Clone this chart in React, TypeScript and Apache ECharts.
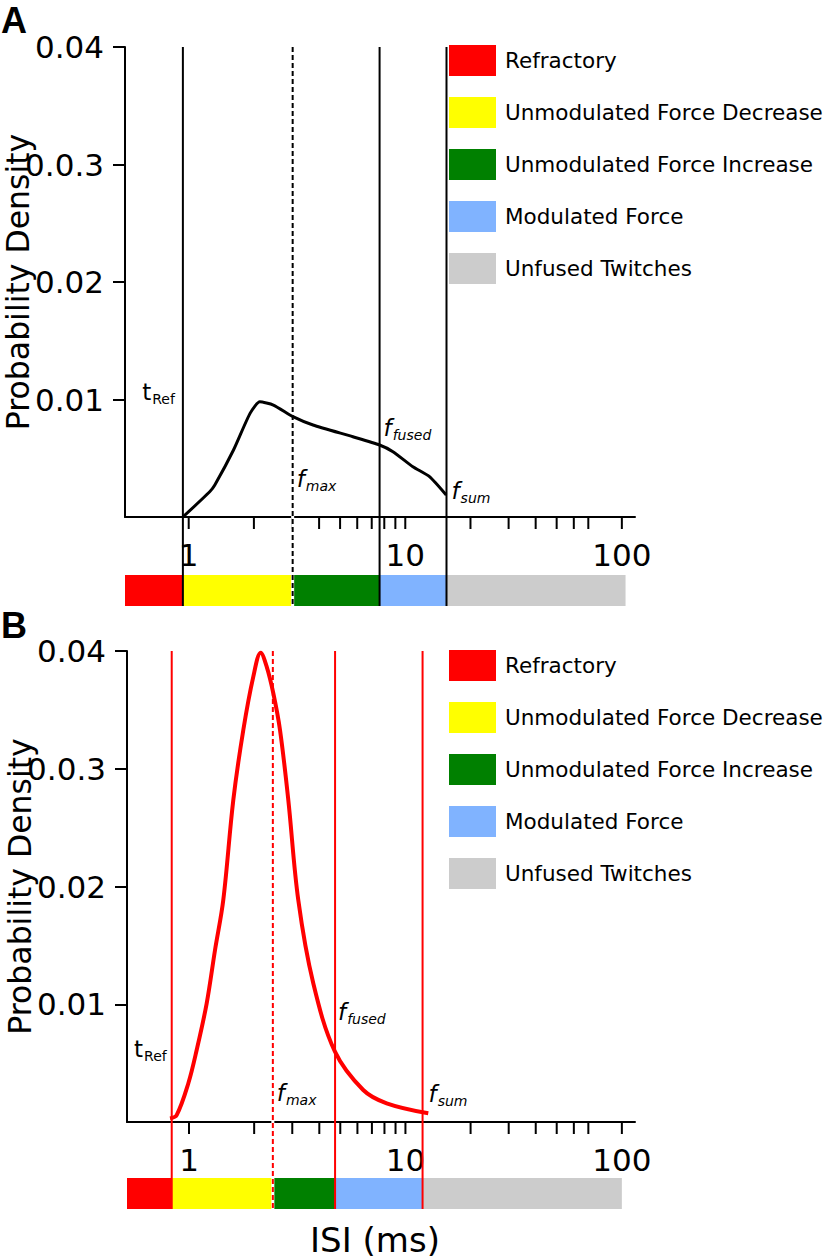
import React, { useEffect, useRef } from 'react';
import * as echarts from 'echarts';

// ---------- data ----------
const CATEGORIES = ['Refractory', 'Unmodulated Force Decrease', 'Unmodulated Force Increase', 'Modulated Force', 'Unfused Twitches'];
const CATEGORY_COLORS = ['#ff0000', '#ffff00', '#008000', '#80b3ff', '#cccccc'];

// Panel A (black)
const A_CURVE_X = [0.94, 1.25, 1.32, 1.61, 1.92, 2.13, 2.46, 3.03, 3.75, 5.73, 7.61, 8.77, 10.84, 12.94, 15.45];
const A_CURVE_Y = [0, 0.00215, 0.00272, 0.0057, 0.00882, 0.0098, 0.00953, 0.00854, 0.00783, 0.00683, 0.00613, 0.00556, 0.00428, 0.00343, 0.00187];
const A_MARKERS = [0.94, 3.02, 7.61, 15.5]; // tRef, fmax, ffused, fsum
const A_BAND_EDGES = [0.508, 0.94, 3.02, 7.61, 15.5, 104];

// Panel B (red)
const B_CURVE_X = [0.817, 0.877, 0.993, 1.085, 1.207, 1.319, 1.44, 1.602, 1.782, 1.982, 2.144, 2.285, 2.452, 2.633, 2.876, 3.198, 3.751, 4.725, 6.383, 8.19, 12.75];
const B_CURVE_Y = [0.00031, 0.00059, 0.00329, 0.00611, 0.01008, 0.01461, 0.01885, 0.02735, 0.03329, 0.03782, 0.03986, 0.03867, 0.03641, 0.03329, 0.02735, 0.01885, 0.01178, 0.00597, 0.00272, 0.00159, 0.00074];
const B_MARKERS = [0.832, 2.44, 4.73, 12.0];
const B_BAND_EDGES = [0.517, 0.832, 2.44, 4.73, 12.0, 100];

const Y_TICKS = [0.01, 0.02, 0.03, 0.04];
const Y_TICK_LABELS = ['0.01', '0.02', '0.0.3', '0.04'];
const X_TICKS = [1, 2, 3, 4, 5, 6, 7, 8, 9, 10, 20, 30, 40, 50, 60, 70, 100];
const X_TICK_LABELS = [1, 10, 100];
const MARKER_LABELS = [
  { main: 't', sub: 'Ref', italic: false },
  { main: 'f', sub: 'max', italic: true },
  { main: 'f', sub: 'fused', italic: true },
  { main: 'f', sub: 'sum', italic: true },
];
const MARKER_DASHED = [false, true, false, false];

// ---------- layout / style ----------
const FONT = '"DejaVu Sans", Verdana, sans-serif';

type LabelLayout = { dx: number; dy: number; align: 'left' | 'right' };
type Panel = {
  curveX: number[]; curveY: number[]; markers: number[]; edges: number[];
  color: string; curveWidth: number; smooth: number;
  grid: { left: number; top: number; width: number; height: number };
  xMin: number; xMax: number; bandOffset: number; bandHeight: number;
  labels: LabelLayout[]; legendTop: number; letter: string; letterTop: number;
};

const PANELS: Panel[] = [
  {
    curveX: A_CURVE_X, curveY: A_CURVE_Y, markers: A_MARKERS, edges: A_BAND_EDGES,
    color: '#000000', curveWidth: 3, smooth: 0.2,
    grid: { left: 125, top: 47, width: 510, height: 470 },
    xMin: 0.508, xMax: 115, bandOffset: 58, bandHeight: 31,
    labels: [
      { dx: -8, dy: -125, align: 'right' },
      { dx: 4, dy: -38, align: 'left' },
      { dx: 4, dy: -89, align: 'left' },
      { dx: 5, dy: -26, align: 'left' },
    ],
    legendTop: 45, letter: 'A', letterTop: 2,
  },
  {
    curveX: B_CURVE_X, curveY: B_CURVE_Y, markers: B_MARKERS, edges: B_BAND_EDGES,
    color: '#ff0000', curveWidth: 4, smooth: 0.35,
    grid: { left: 127, top: 651, width: 508, height: 471 },
    xMin: 0.517, xMax: 115, bandOffset: 56, bandHeight: 31,
    labels: [
      { dx: -5, dy: -73, align: 'right' },
      { dx: 4, dy: -29, align: 'left' },
      { dx: 3, dy: -110, align: 'left' },
      { dx: 6, dy: -28, align: 'left' },
    ],
    legendTop: 650, letter: 'B', letterTop: 607,
  },
];

const MAIN_FONT = 23;
const SUB_FONT = 14;

function measure(text: string, font: string): number {
  const ctx = document.createElement('canvas').getContext('2d');
  if (!ctx) return text.length * 8;
  ctx.font = font;
  return ctx.measureText(text).width;
}

function buildOption() {
  const grids: any[] = [];
  const xAxes: any[] = [];
  const yAxes: any[] = [];
  const series: any[] = [];
  const legends: any[] = [];
  const graphics: any[] = [];

  PANELS.forEach((P, p) => {
    grids.push({ ...P.grid, containLabel: false, outerBoundsMode: 'none' });
    xAxes.push({
      type: 'log', logBase: 10, gridIndex: p, min: P.xMin, max: P.xMax,
      axisLine: { show: true, onZero: false, lineStyle: { color: '#000', width: 2 } },
      axisTick: { show: false },
      minorTick: { show: false },
      splitLine: { show: false },
      axisLabel: {
        show: true, fontSize: 31, fontFamily: FONT, color: '#000', margin: 22,
        showMinLabel: false, showMaxLabel: false,
        formatter: (v: number) => {
          const t = X_TICK_LABELS.find((t) => Math.abs(t - v) / t < 1e-6);
          return t !== undefined ? String(t) : '';
        },
      },
    });
    yAxes.push({
      type: 'value', gridIndex: p, min: 0, max: 0.04, interval: 0.01,
      name: 'Probability Density', nameLocation: 'middle', nameGap: 91, nameMoveOverlap: false,
      nameTextStyle: { fontSize: 31.5, fontFamily: FONT, color: '#000' },
      axisLine: { show: true, lineStyle: { color: '#000', width: 2 } },
      axisTick: { show: true, length: 12, lineStyle: { color: '#000', width: 2 }, customValues: Y_TICKS },
      splitLine: { show: false },
      axisLabel: {
        fontSize: 31, fontFamily: FONT, color: '#000', margin: 21, customValues: Y_TICKS,
        formatter: (v: number) => {
          const i = Y_TICKS.findIndex((t) => Math.abs(t - v) < 1e-9);
          return i >= 0 ? Y_TICK_LABELS[i] : '';
        },
      },
    });

    // color bands
    CATEGORIES.forEach((name, k) => {
      series.push({
        type: 'custom', name, xAxisIndex: p, yAxisIndex: p, clip: false, silent: true, z: 1,
        itemStyle: { color: CATEGORY_COLORS[k] },
        encode: { x: [0, 1], y: 2 },
        data: [[P.edges[k], P.edges[k + 1], 0]],
        renderItem: (params: any, api: any) => {
          const a = api.coord([api.value(0), 0]);
          const b = api.coord([api.value(1), 0]);
          return {
            type: 'rect',
            shape: { x: a[0], y: a[1] + P.bandOffset, width: b[0] - a[0], height: P.bandHeight },
            style: { fill: api.visual('color') },
          };
        },
      });
    });

    // x ticks
    series.push({
      type: 'custom', xAxisIndex: p, yAxisIndex: p, clip: false, silent: true, z: 3,
      encode: { x: 0, y: 1 },
      data: X_TICKS.map((v) => [v, 0]),
      renderItem: (params: any, api: any) => {
        const c = api.coord([api.value(0), 0]);
        return {
          type: 'line',
          shape: { x1: c[0], y1: c[1], x2: c[0], y2: c[1] + 12 },
          style: { stroke: '#000', lineWidth: 2 },
        };
      },
    });

    // marker vertical lines + labels
    series.push({
      type: 'custom', xAxisIndex: p, yAxisIndex: p, clip: false, silent: true, z: 4,
      encode: { x: 0, y: 1 },
      data: P.markers.map((v, i) => [v, 0.04, i]),
      renderItem: (params: any, api: any) => {
        const i = api.value(2);
        const top = api.coord([api.value(0), 0.04]);
        const base = api.coord([api.value(0), 0]);
        const x = top[0];
        const bottom = base[1] + P.bandOffset + P.bandHeight;
        const dashed = MARKER_DASHED[i];
        const lab = MARKER_LABELS[i];
        const lay = P.labels[i];
        const mainFont = `${lab.italic ? 'italic ' : ''}${MAIN_FONT}px ${FONT}`;
        const subFont = `${lab.italic ? 'italic ' : ''}${SUB_FONT}px ${FONT}`;
        const wMain = measure(lab.main, mainFont);
        const wSub = measure(lab.sub, subFont);
        const ax = x + lay.dx;
        const x0 = lay.align === 'right' ? ax - (wMain + 1 + wSub) : ax;
        const yc = base[1] + lay.dy;
        const children: any[] = [];
        if (dashed) {
          children.push({ type: 'line', shape: { x1: x, y1: top[1], x2: x, y2: bottom }, style: { stroke: '#fff', lineWidth: 3 } });
        }
        children.push({
          type: 'line', shape: { x1: x, y1: top[1], x2: x, y2: bottom },
          style: { stroke: P.color, lineWidth: 2, lineDash: dashed ? [5, 3] : null },
        });
        children.push({
          type: 'text', x: x0, y: yc,
          style: { text: lab.main, font: mainFont, fill: '#000', align: 'left', verticalAlign: 'middle', textAlign: 'left', textVerticalAlign: 'middle' },
        });
        children.push({
          type: 'text', x: x0 + wMain + 1, y: yc + 7,
          style: { text: lab.sub, font: subFont, fill: '#000', align: 'left', verticalAlign: 'middle', textAlign: 'left', textVerticalAlign: 'middle' },
        });
        return { type: 'group', children };
      },
    });

    // curve
    series.push({
      type: 'line', xAxisIndex: p, yAxisIndex: p, z: 5,
      data: P.curveX.map((x, i) => [x, P.curveY[i]]),
      showSymbol: false, symbol: 'none', smooth: P.smooth,
      lineStyle: { color: P.color, width: P.curveWidth },
    });

    legends.push({
      data: CATEGORIES.map((name) => ({ name, icon: 'rect' })),
      orient: 'vertical', left: 449, top: P.legendTop, padding: 0,
      itemWidth: 47, itemHeight: 31, itemGap: 21, selectedMode: false,
      textStyle: { fontSize: 21.5, fontFamily: FONT, color: '#000', padding: [0, 0, 0, 4] },
    });

    graphics.push({
      type: 'text', x: 1, y: P.letterTop,
      style: {
        text: P.letter, font: `bold 36px "Liberation Sans", Arial, sans-serif`, fill: '#000',
        align: 'left', verticalAlign: 'top', textAlign: 'left', textVerticalAlign: 'top',
      },
    });
  });

  graphics.push({
    type: 'text', x: 375, y: 1240,
    style: { text: 'ISI (ms)', font: `34px ${FONT}`, fill: '#000', align: 'center', verticalAlign: 'middle', textAlign: 'center', textVerticalAlign: 'middle' },
  });

  return {
    animation: false,
    backgroundColor: '#fff',
    grid: grids,
    xAxis: xAxes,
    yAxis: yAxes,
    legend: legends,
    series,
    graphic: graphics,
  };
}

export default function App() {
  const ref = useRef<HTMLDivElement>(null);
  useEffect(() => {
    if (!ref.current) return;
    const chart = echarts.init(ref.current, null, { renderer: 'svg' });
    chart.setOption(buildOption() as any);
    return () => chart.dispose();
  }, []);
  return <div ref={ref} style={{ position: 'fixed', left: 0, top: 0, width: 826, height: 1259 }} />;
}
